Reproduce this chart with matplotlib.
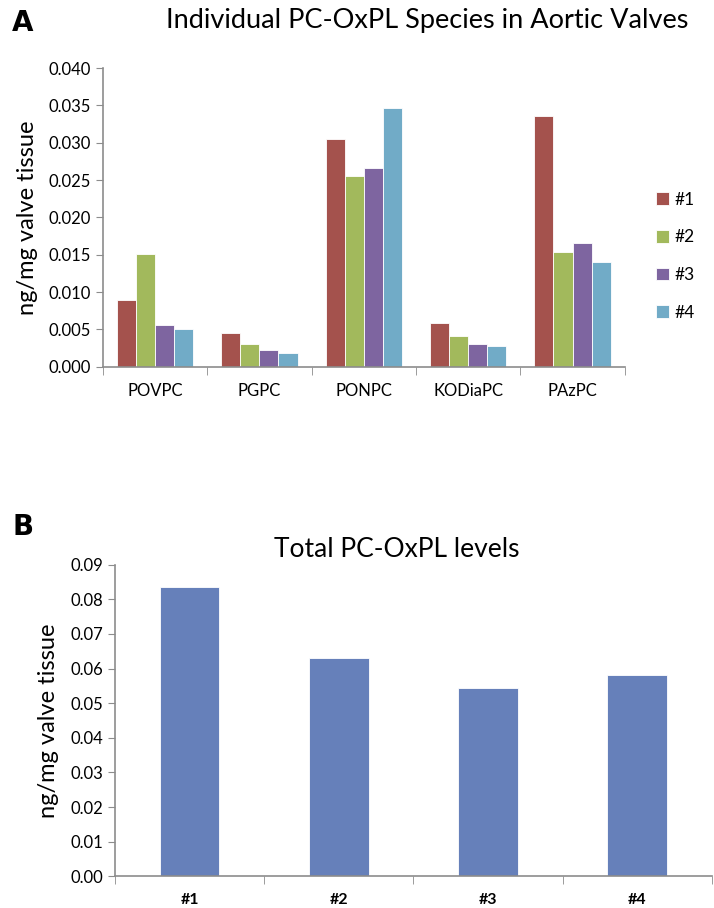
import numpy as np
import matplotlib.pyplot as plt

plt.rcParams['font.family'] = ['Lato', 'DejaVu Sans']

# data
species = ["POVPC", "PGPC", "PONPC", "KODiaPC", "PAzPC"]
samples = ["#1", "#2", "#3", "#4"]
s1 = [0.0089, 0.0045, 0.0305, 0.0059, 0.0336]
s2 = [0.0151, 0.0031, 0.0256, 0.0041, 0.0154]
s3 = [0.0056, 0.0023, 0.0266, 0.0031, 0.0166]
s4 = [0.0051, 0.0019, 0.0347, 0.0028, 0.0140]
totals = [0.0835, 0.0630, 0.0543, 0.0582]

colors = ["#A4524D", "#A2B95C", "#7E65A0", "#71ABC7"]
total_color = "#6680BA"
spine_col = "#8C8C8C"

fig = plt.figure(figsize=(7.14, 9.08), dpi=100)

# ---------- panel A ----------
axA = fig.add_axes([0.144, 0.596, 0.731, 0.329])
x = np.arange(len(species))
w = 0.183
for i, vals in enumerate([s1, s2, s3, s4]):
    axA.bar(x + (i - 1.5) * w, vals, w, color=colors[i], edgecolor="white",
            linewidth=0.6, label=samples[i])
axA.set_xlim(-0.5, len(species) - 0.5)
axA.set_ylim(0, 0.040)
axA.set_yticks(np.arange(0, 0.0401, 0.005))
axA.set_yticklabels([f"{v:.3f}" for v in np.arange(0, 0.0401, 0.005)])
axA.set_xticks(x)
axA.set_xticklabels(species)
axA.set_xticks(np.arange(-0.5, len(species), 1), minor=True)
axA.tick_params(axis="x", which="major", length=0, pad=12, labelsize=12)
axA.tick_params(axis="x", which="minor", length=6, color=spine_col, direction="out")
axA.tick_params(axis="y", length=5, color=spine_col, labelsize=12)
axA.set_ylabel("ng/mg valve tissue", fontsize=17, labelpad=8)
for s in ["top", "right"]:
    axA.spines[s].set_visible(False)
for s in ["left", "bottom"]:
    axA.spines[s].set_color(spine_col)
    axA.spines[s].set_linewidth(1.2)
axA.legend(loc="center left", bbox_to_anchor=(1.03, 0.37), frameon=False,
           fontsize=12.5, handlelength=0.75, handleheight=0.75, handletextpad=0.3,
           labelspacing=1.25)
fig.text(0.598, 0.977, "Individual PC-OxPL Species in Aortic Valves",
         ha="center", va="center", fontsize=19.5)
fig.text(0.017, 0.975, "A", ha="left", va="center", fontsize=20,
         fontweight="bold", family="DejaVu Sans")

# ---------- panel B ----------
axB = fig.add_axes([0.161, 0.035, 0.836, 0.343])
xb = np.arange(len(samples))
axB.bar(xb, totals, 0.4, color=total_color, edgecolor="white", linewidth=0.6)
axB.set_xlim(-0.5, len(samples) - 0.5)
axB.set_ylim(0, 0.09)
axB.set_yticks(np.arange(0, 0.0901, 0.01))
axB.set_yticklabels([f"{v:.2f}" for v in np.arange(0, 0.0901, 0.01)])
axB.set_xticks(xb)
axB.set_xticklabels(samples, fontweight="bold")
axB.set_xticks(np.arange(-0.5, len(samples), 1), minor=True)
axB.tick_params(axis="x", which="major", length=0, pad=12, labelsize=11.5)
axB.tick_params(axis="x", which="minor", length=6, color=spine_col, direction="out")
axB.tick_params(axis="y", length=5, color=spine_col, labelsize=12)
axB.set_ylabel("ng/mg valve tissue", fontsize=17, labelpad=8)
for s in ["top", "right"]:
    axB.spines[s].set_visible(False)
for s in ["left", "bottom"]:
    axB.spines[s].set_color(spine_col)
    axB.spines[s].set_linewidth(1.2)
fig.text(0.555, 0.395, "Total PC-OxPL levels", ha="center", va="center",
         fontsize=19)
fig.text(0.017, 0.420, "B", ha="left", va="center", fontsize=20,
         fontweight="bold", family="DejaVu Sans")

fig.savefig("out.png", dpi=100)
